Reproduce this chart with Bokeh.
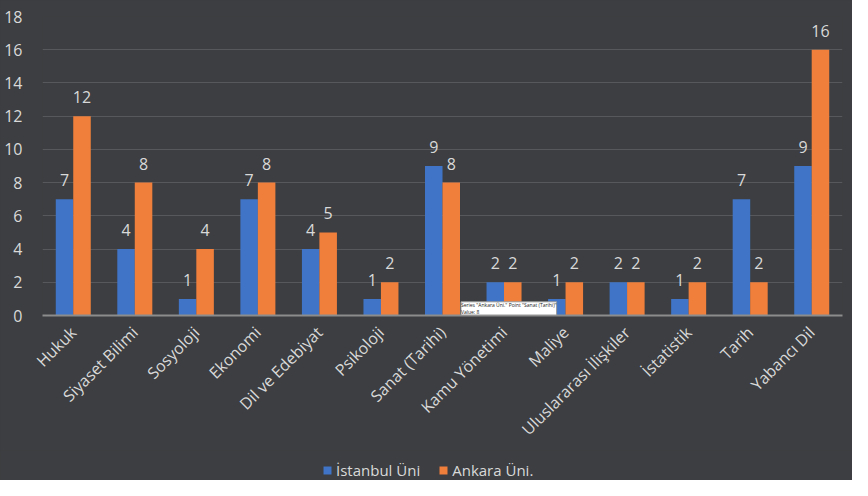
import math
from bokeh.plotting import figure
from bokeh.models import ColumnDataSource, Legend, LegendItem, Label
from bokeh.layouts import column
from bokeh.transform import dodge
from bokeh.core.properties import value
from bokeh.embed import file_html
from bokeh.resources import INLINE

categories = ["Hukuk", "Siyaset Bilimi", "Sosyoloji", "Ekonomi", "Dil ve Edebiyat",
              "Psikoloji", "Sanat (Tarihi)", "Kamu Yönetimi", "Maliye",
              "Uluslararası İlişkiler", "İstatistik", "Tarih", "Yabancı Dil"]
istanbul = [7, 4, 1, 7, 4, 1, 9, 2, 1, 2, 1, 7, 9]
ankara = [12, 8, 4, 8, 5, 2, 8, 2, 2, 2, 2, 2, 16]
series_names = ["İstanbul Üni", "Ankara Üni."]
y_ticks = [0, 2, 4, 6, 8, 10, 12, 14, 16, 18]

FONT = "Open Sans"
TXT = "#d9d9d9"
BG = "#3c3e41"
BLUE = "#3f74c6"
ORANGE = "#f07f3c"

src = ColumnDataSource(dict(cat=categories, ist=istanbul, ank=ankara,
                            ist_t=[str(v) for v in istanbul],
                            ank_t=[str(v) for v in ankara]))

p = figure(width=852, height=450, x_range=categories, y_range=(0, 18),
           output_backend="svg", toolbar_location=None,
           min_border_left=42, min_border_right=10, min_border_top=16,
           min_border_bottom=135)
p.background_fill_color = BG
p.border_fill_color = BG
p.outline_line_color = None
p.styles = {"background-color": BG}

bw = 0.285
off = 0.142
p.vbar(x=dodge("cat", -off, range=p.x_range), top="ist", width=bw, source=src,
       fill_color=BLUE, line_color=None)
p.vbar(x=dodge("cat", off, range=p.x_range), top="ank", width=bw, source=src,
       fill_color=ORANGE, line_color=None)

for col, t, o in (("ist", "ist_t", -off), ("ank", "ank_t", off)):
    p.text(x=dodge("cat", o, range=p.x_range), y=col, text=t, source=src,
           text_align="center", text_baseline="bottom", y_offset=-13,
           text_color=TXT, text_font=value(FONT), text_font_size="16px")

p.yaxis.ticker = y_ticks
p.yaxis.axis_line_color = None
p.yaxis.major_tick_line_color = None
p.yaxis.minor_tick_line_color = None
p.yaxis.major_label_text_color = TXT
p.yaxis.major_label_text_font = FONT
p.yaxis.major_label_text_font_size = "16px"
p.yaxis.major_label_standoff = 14

p.xaxis.axis_line_color = "#8c8c8c"
p.xaxis.axis_line_width = 2
p.xaxis.major_tick_line_color = None
p.xaxis.minor_tick_line_color = None
p.xaxis.major_label_orientation = math.pi / 4
p.xaxis.major_label_text_color = TXT
p.xaxis.major_label_text_font = FONT
p.xaxis.major_label_text_font_size = "16px"
p.xaxis.major_label_standoff = 8

p.xgrid.grid_line_color = None
p.ygrid.grid_line_color = "#56585b"
p.ygrid.grid_line_width = 1

tip = Label(x=6.80, y=0.03, text='Series "Ankara Üni." Point "Sanat (Tarihi)"\nValue: 8',
            text_font_size="5px", text_color="#222222", text_font=FONT,
            background_fill_color="white", border_line_color="#999999",
            text_baseline="bottom")
p.add_layout(tip)

# legend strip below the chart
lg = figure(width=852, height=30, x_range=(0, 1), y_range=(0, 1),
            output_backend="svg", toolbar_location=None,
            min_border_left=0, min_border_right=0, min_border_top=0, min_border_bottom=0)
lg.frame_align = False
lg.axis.visible = False
lg.grid.grid_line_color = None
lg.background_fill_color = BG
lg.border_fill_color = BG
lg.outline_line_color = None
lg.styles = {"background-color": BG}
k1 = lg.vbar(x=[0.5], top=[0], width=0, fill_color=BLUE, line_color=None)
k2 = lg.vbar(x=[0.5], top=[0], width=0, fill_color=ORANGE, line_color=None)
legend = Legend(items=[LegendItem(label=series_names[0], renderers=[k1]),
                       LegendItem(label=series_names[1], renderers=[k2])],
                orientation="horizontal", location=(322, 0),
                background_fill_alpha=0, border_line_color=None,
                label_text_color=TXT, label_text_font=FONT, label_text_font_size="15px",
                glyph_width=10, glyph_height=10, label_standoff=4, spacing=18,
                padding=0, margin=0)
lg.add_layout(legend, "center")

layout = column(p, lg, spacing=0, styles={"background-color": BG})
open("out.html", "w").write(file_html(layout, INLINE))
